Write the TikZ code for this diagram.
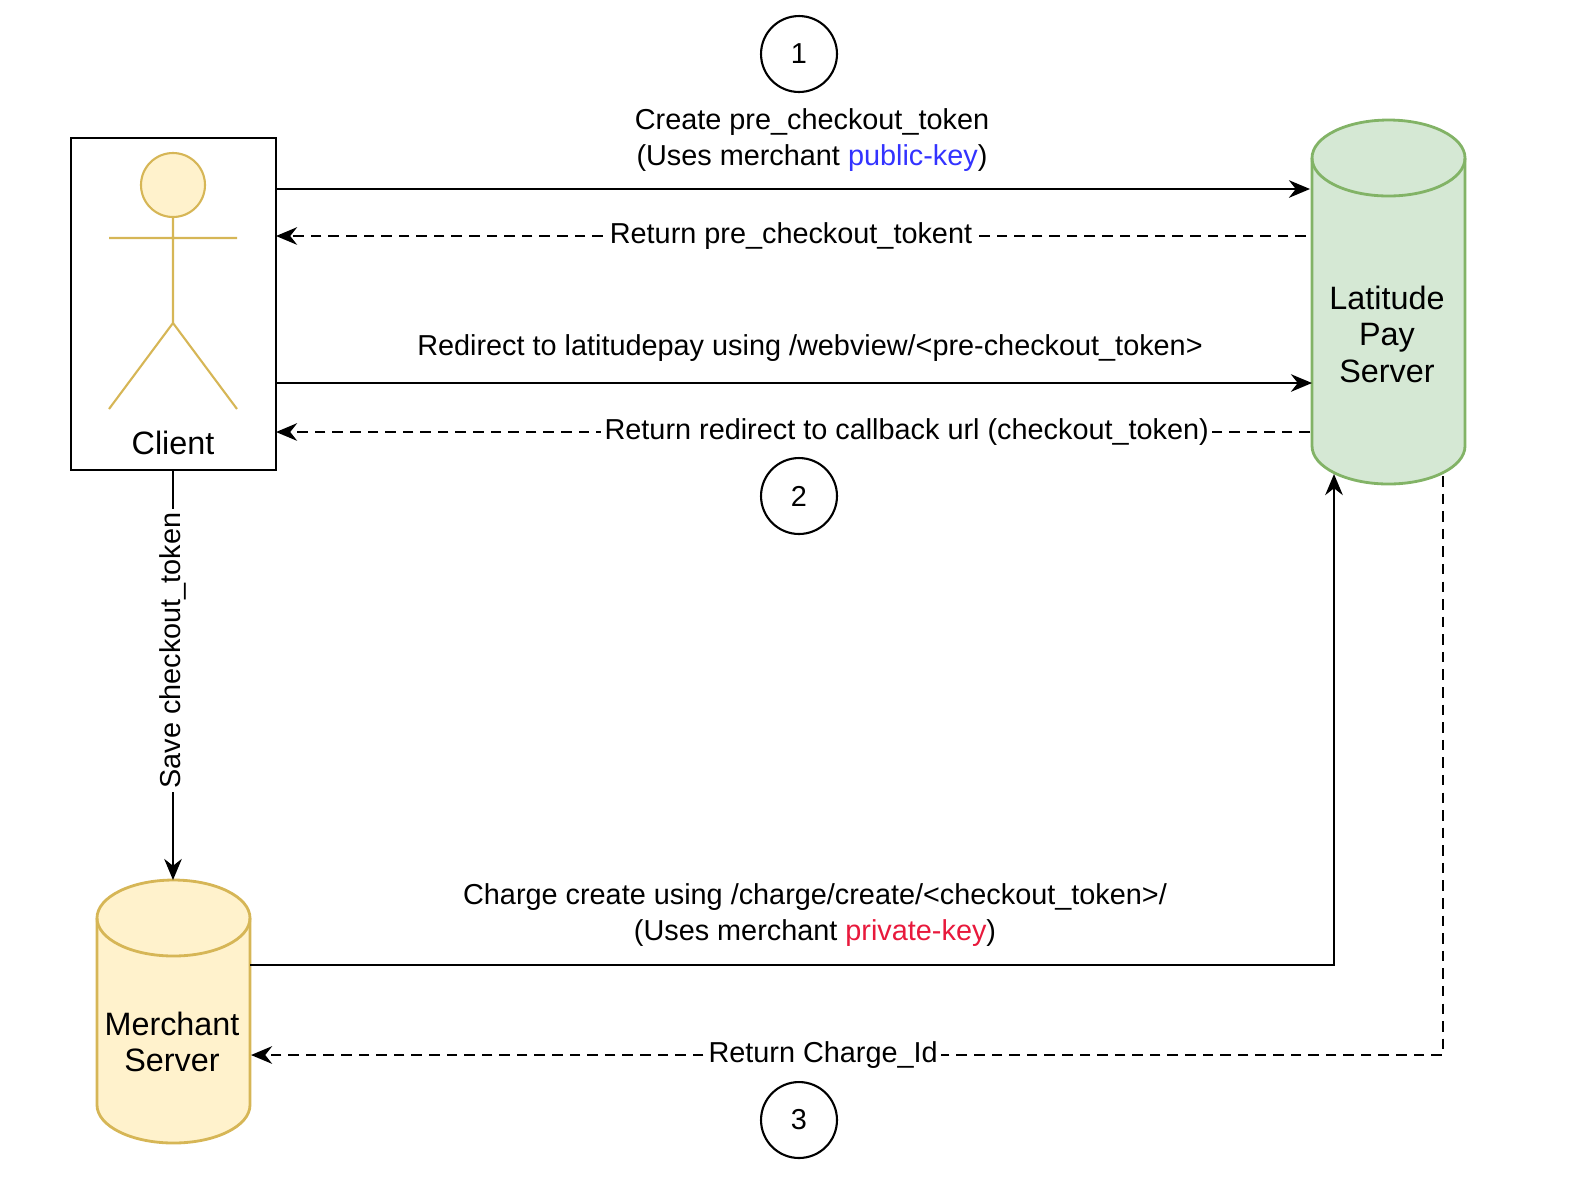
\documentclass[tikz,border=0pt]{standalone}
\usepackage{fontspec}
\setmainfont{Liberation Sans}
\usetikzlibrary{arrows.meta}
\definecolor{ylwfill}{HTML}{FFF2CC}
\definecolor{ylwline}{HTML}{D6B656}
\definecolor{grnfill}{HTML}{D5E8D4}
\definecolor{grnline}{HTML}{82B366}
\definecolor{keyblue}{HTML}{3333FF}
\definecolor{keyred}{HTML}{E8193C}
\tikzset{
  lbl/.style={font=\fontsize{8.2}{10.4}\selectfont, align=center, inner sep=1pt},
  big/.style={lbl, font=\fontsize{9.2}{10.4}\selectfont},
  onl/.style={lbl, fill=white},
  msg/.style={-{Stealth[length=6pt,width=5pt]}, line width=0.6pt},
  ret/.style={msg, dash pattern=on 3pt off 2pt},
  stepno/.style={circle, draw, line width=0.6pt, minimum size=21.6pt, font=\fontsize{8.2}{10}\selectfont},
}
\begin{document}
\begin{tikzpicture}[x=0.01cm,y=-0.01cm]
    \useasboundingbox (0,0) rectangle (1594,1202);
    % client
    \draw[line width=0.6pt] (71,138) rectangle (276,470);
    \draw[ylwline, fill=ylwfill, line width=0.6pt] (173,185) circle[radius=32];
    \draw[ylwline, line width=0.6pt] (109,238)--(237,238) (173,217)--(173,323) (109,409)--(173,323)--(237,409);
    \node[big] (client) at (173,443) {Client};
    % servers
    \draw[grnline, fill=grnfill, line width=0.8pt] (1312,158) -- (1312,446) arc[start angle=180,end angle=0,x radius=76.5,y radius=38] -- (1465,158) arc[start angle=0,end angle=-180,x radius=76.5,y radius=38] -- cycle;
    \draw[grnline, line width=0.8pt] (1312,158) arc[start angle=180,end angle=0,x radius=76.5,y radius=38];
    \node[big] (lps) at (1387,334) {Latitude\\Pay\\Server};
    \draw[ylwline, fill=ylwfill, line width=0.8pt] (97,918) -- (97,1105) arc[start angle=180,end angle=0,x radius=76.5,y radius=38] -- (250,918) arc[start angle=0,end angle=-180,x radius=76.5,y radius=38] -- cycle;
    \draw[ylwline, line width=0.8pt] (97,918) arc[start angle=180,end angle=0,x radius=76.5,y radius=38];
    \node[big] (ms) at (172,1042) {Merchant\\Server};
    % steps
    \node[stepno] (s1) at (799,54) {1};
    \node[stepno] (s2) at (799,496) {2};
    \node[stepno] (s3) at (799,1120) {3};
    % end points
    \coordinate (c1) at (276,189); \coordinate (l1) at (1310,189);
    \coordinate (l2) at (1306,236); \coordinate (c2) at (276,236);
    \coordinate (c3) at (276,383); \coordinate (l3) at (1312,383);
    \coordinate (l4) at (1310,432); \coordinate (c4) at (276,432);
    \coordinate (cb) at (173,470); \coordinate (mt) at (173,880);
    \coordinate (m1) at (250,965); \coordinate (lb) at (1334,474);
    \coordinate (lr) at (1443,476); \coordinate (m2) at (251,1055);
    % messages
    \draw[msg] (c1) -- (l1);
    \node[lbl] at (812,140) {Create pre\_checkout\_token\\(Uses merchant \textcolor{keyblue}{public-key})};
    \draw[ret] (l2) -- node[onl]{Return pre\_checkout\_tokent} (c2);
    \draw[msg] (c3) -- (l3);
    \node[lbl] at (810,348) {Redirect to latitudepay using /webview/<pre-checkout\_token>};
    \draw[ret] (l4) -- node[onl, pos=.39]{Return redirect to callback url (checkout\_token)} (c4);
    \draw[msg] (cb) -- node[onl, rotate=90, pos=.44]{Save checkout\_token} (mt);
    \draw[msg] (m1) -| (lb);
    \node[lbl] at (815,915) {Charge create using /charge/create/<checkout\_token>/\\(Uses merchant \textcolor{keyred}{private-key})};
    \draw[ret] (lr) |- node[onl, pos=.76]{Return Charge\_Id} (m2);
\end{tikzpicture}
\end{document}
